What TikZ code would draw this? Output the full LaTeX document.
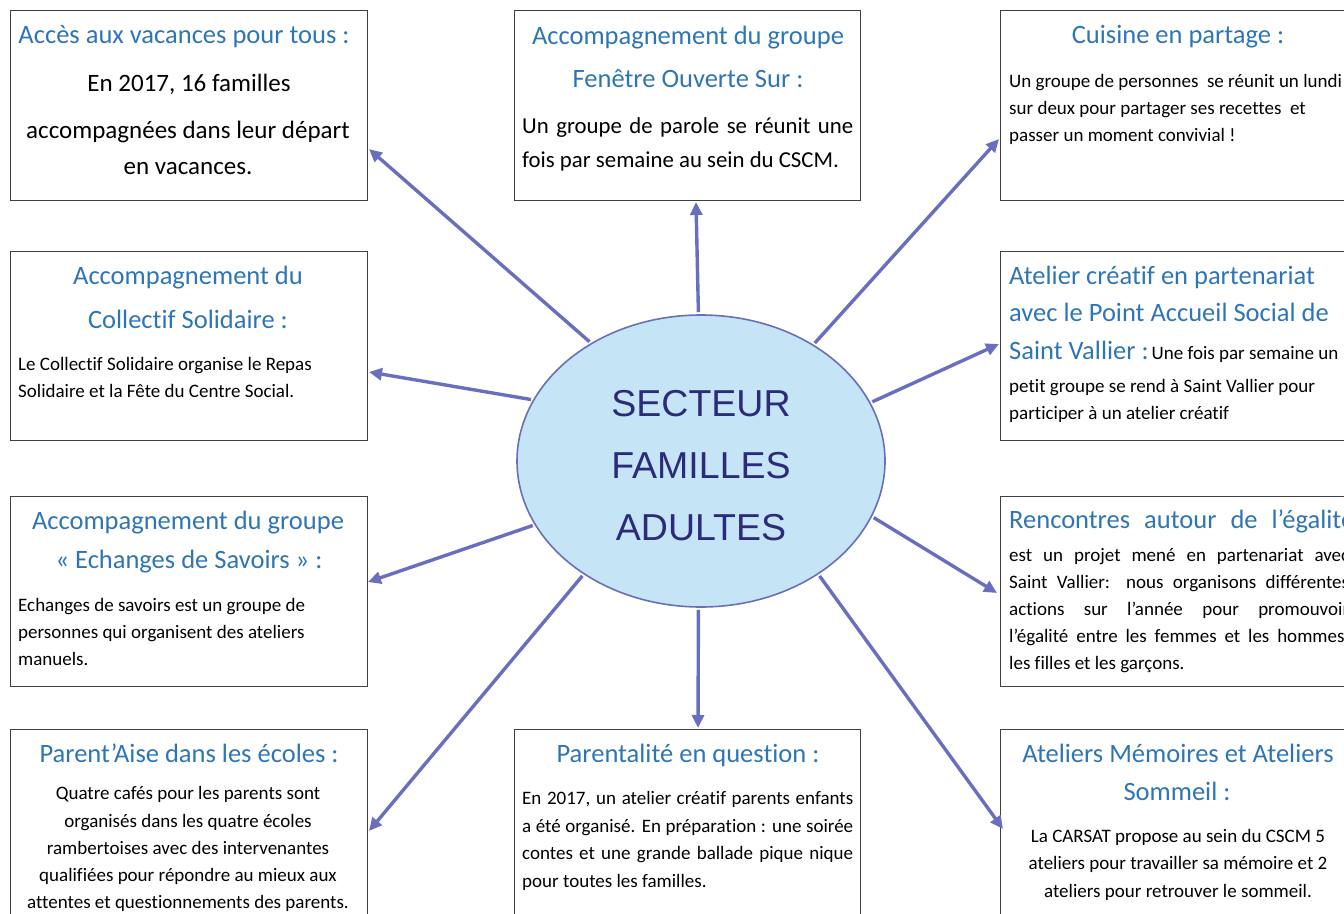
\documentclass[tikz,border=0pt]{standalone}
\usepackage{fontspec}
\setmainfont{Carlito}[Ligatures={NoCommon}]
\newfontfamily\arialf{Liberation Sans}
\usetikzlibrary{arrows.meta,shapes.geometric}
\definecolor{ttl}{HTML}{2E75B6}
\definecolor{arr}{HTML}{6A6EBE}
\definecolor{ellfill}{HTML}{C5E4F6}
\definecolor{elldraw}{HTML}{6870B8}
\definecolor{ctext}{HTML}{2B2B7A}
\definecolor{boxline}{HTML}{3F3F3F}
\tikzset{
  box/.style={draw=boxline,line width=1.4pt,rectangle,inner sep=0pt,anchor=north west},
  ttlt/.style={text=ttl,font=\fontsize{26.5}{30}\selectfont,inner sep=0pt,yshift=-6pt},
  bigt/.style={text=black,font=\fontsize{25}{29}\selectfont,inner sep=0pt,yshift=-6pt},
  midt/.style={text=black,font=\fontsize{22.8}{26}\selectfont,inner sep=0pt,yshift=-6pt},
  smt/.style={text=black,font=\fontsize{19}{23}\selectfont,inner sep=0pt,yshift=-5pt},
  ctr/.style={text=ctext,font=\arialf\fontsize{37.5}{44}\selectfont,anchor=mid,yshift=-10pt},
  link/.style={draw=arr,line width=3.4pt,-{Triangle[length=13pt,width=12pt]},shorten <=2pt}
}
\begin{document}
\begin{tikzpicture}[x=1pt,y=-1pt]
\useasboundingbox (0,0) rectangle (1344,913);
% boxes
\node[box,minimum width=357pt,minimum height=190pt] (b1) at (10,10) {};
\node[box,minimum width=346pt,minimum height=190pt] (b2) at (514,10) {};
\node[box,minimum width=370pt,minimum height=190pt] (b3) at (1000,10) {};
\node[box,minimum width=357pt,minimum height=189pt] (b4) at (10,251) {};
\node[box,minimum width=370pt,minimum height=189pt] (b5) at (1000,251) {};
\node[box,minimum width=357pt,minimum height=190pt] (b6) at (10,496) {};
\node[box,minimum width=370pt,minimum height=190pt] (b7) at (1000,496) {};
\node[box,minimum width=357pt,minimum height=200pt] (b8) at (10,729) {};
\node[box,minimum width=346pt,minimum height=200pt] (b9) at (514,729) {};
\node[box,minimum width=370pt,minimum height=200pt] (b10) at (1000,729) {};
% centre
\node[ellipse,draw=elldraw,line width=1.6pt,fill=ellfill,minimum width=368pt,minimum height=292pt,inner sep=0pt] (c) at (701,461) {};
\node[ctr] (c1) at (701,404) {SECTEUR};
\node[ctr] (c2) at (701,466) {FAMILLES};
\node[ctr] (c3) at (701,528) {ADULTES};
% box 1
\node[ttlt,anchor=mid] (t1a) at (184,35) {Accès aux vacances pour tous :};
\node[bigt,anchor=mid] (t1b) at (189,83) {En 2017, 16 familles};
\node[bigt,anchor=mid] (t1c) at (188,130) {accompagnées dans leur départ};
\node[bigt,anchor=mid] (t1d) at (188,166) {en vacances.};
% box 2
\node[ttlt,anchor=mid] (t2a) at (688,36) {Accompagnement du groupe};
\node[ttlt,anchor=mid] (t2b) at (688,79) {Fenêtre Ouverte Sur :};
\node[midt,anchor=mid west] (t2c) at (522,125) {\makebox[331pt][s]{Un groupe de parole se réunit une}};
\node[midt,anchor=mid west] (t2d) at (522,159) {fois par semaine au sein du CSCM.};
% box 3
\node[ttlt,anchor=mid] (t3a) at (1178,35) {Cuisine en partage :};
\node[smt,anchor=mid west] (t3b) at (1009,80) {Un groupe de personnes\ \ se réunit un lundi};
\node[smt,anchor=mid west] (t3c) at (1009,107) {sur deux pour partager ses recettes\ \ et};
\node[smt,anchor=mid west] (t3d) at (1009,134) {passer un moment convivial !};
% box 4
\node[ttlt,anchor=mid] (t4a) at (188,276) {Accompagnement du};
\node[ttlt,anchor=mid] (t4b) at (188,320) {Collectif Solidaire :};
\node[smt,anchor=mid west] (t4c) at (18,363) {Le Collectif Solidaire organise le Repas};
\node[smt,anchor=mid west] (t4d) at (18,390) {Solidaire et la Fête du Centre Social.};
% box 5
\node[ttlt,anchor=mid west] (t5a) at (1009,276) {Atelier créatif en partenariat};
\node[ttlt,anchor=mid west] (t5b) at (1009,313) {avec le Point Accueil Social de};
\node[ttlt,anchor=mid west] (t5c) at (1009,351) {Saint Vallier :\hspace{3pt}{\color{black}\fontsize{19}{23}\selectfont Une fois par semaine un}};
\node[smt,anchor=mid west] (t5d) at (1009,385) {petit groupe se rend à Saint Vallier pour};
\node[smt,anchor=mid west] (t5e) at (1009,412) {participer à un atelier créatif};
% box 6
\node[ttlt,anchor=mid] (t6a) at (188,521) {Accompagnement du groupe};
\node[ttlt,anchor=mid] (t6b) at (189,560) {« Echanges de Savoirs » :};
\node[smt,anchor=mid west] (t6c) at (18,604) {Echanges de savoirs est un groupe de};
\node[smt,anchor=mid west] (t6d) at (18,631) {personnes qui organisent des ateliers};
\node[smt,anchor=mid west] (t6e) at (18,658) {manuels.};
% box 7
\node[ttlt,anchor=mid west] (t7a) at (1009,520) {Rencontres\hspace{8pt} autour\hspace{8pt} de\hspace{8pt} l’égalité :};
\node[smt,anchor=mid west] (t7b) at (1009,554) {\makebox[340pt][s]{est un projet mené en partenariat avec}};
\node[smt,anchor=mid west] (t7c) at (1009,581) {\makebox[340pt][s]{Saint Vallier: nous organisons différentes}};
\node[smt,anchor=mid west] (t7d) at (1009,608) {\makebox[340pt][s]{actions sur l’année pour promouvoir}};
\node[smt,anchor=mid west] (t7e) at (1009,635) {\makebox[340pt][s]{l’égalité entre les femmes et les hommes,}};
\node[smt,anchor=mid west] (t7f) at (1009,662) {les filles et les garçons.};
% box 8
\node[ttlt,anchor=mid] (t8a) at (189,754) {Parent’Aise dans les écoles :};
\node[smt,anchor=mid] (t8b) at (188,792) {Quatre cafés pour les parents sont};
\node[smt,anchor=mid] (t8c) at (188,820) {organisés dans les quatre écoles};
\node[smt,anchor=mid] (t8d) at (188,847) {rambertoises avec des intervenantes};
\node[smt,anchor=mid] (t8e) at (188,874) {qualifiées pour répondre au mieux aux};
\node[smt,anchor=mid] (t8f) at (188,901) {attentes et questionnements des parents.};
% box 9
\node[ttlt,anchor=mid] (t9a) at (688,754) {Parentalité en question :};
\node[smt,anchor=mid west] (t9b) at (522,797) {\makebox[331pt][s]{En 2017, un atelier créatif parents enfants}};
\node[smt,anchor=mid west] (t9c) at (522,825) {\makebox[331pt][s]{a été organisé. En préparation : une soirée}};
\node[smt,anchor=mid west] (t9d) at (522,852) {\makebox[331pt][s]{contes et une grande ballade pique nique}};
\node[smt,anchor=mid west] (t9e) at (522,880) {pour toutes les familles.};
% box 10
\node[ttlt,anchor=mid] (t10a) at (1178,754) {Ateliers Mémoires et Ateliers};
\node[ttlt,anchor=mid] (t10b) at (1177,792) {Sommeil :};
\node[smt,anchor=mid] (t10c) at (1178,835) {La CARSAT propose au sein du CSCM 5};
\node[smt,anchor=mid] (t10d) at (1178,862) {ateliers pour travailler sa mémoire et 2};
\node[smt,anchor=mid] (t10e) at (1178,890) {ateliers pour retrouver le sommeil.};
% arrow ends
\coordinate (e1) at (369,149);
\coordinate (e2) at (696,202);
\coordinate (e3) at (999,139);
\coordinate (e4) at (369,372);
\coordinate (e5) at (999,344);
\coordinate (e6) at (368,582);
\coordinate (e7) at (997,593);
\coordinate (e8) at (369,831);
\coordinate (e9) at (698,728);
\coordinate (e10) at (1003,829);
% arrows
\draw[link] (c.133) -- (e1);
\draw[link] (c.91) -- (e2);
\draw[link] (c.46) -- (e3);
\draw[link] (c.160) -- (e4);
\draw[link] (c.19) -- (e5);
\draw[link] (c.201.5) -- (e6);
\draw[link] (c.-18.6) -- (e7);
\draw[link] (c.224) -- (e8);
\draw[link] (c.269) -- (e9);
\draw[link] (c.-44) -- (e10);
\end{tikzpicture}
\end{document}
